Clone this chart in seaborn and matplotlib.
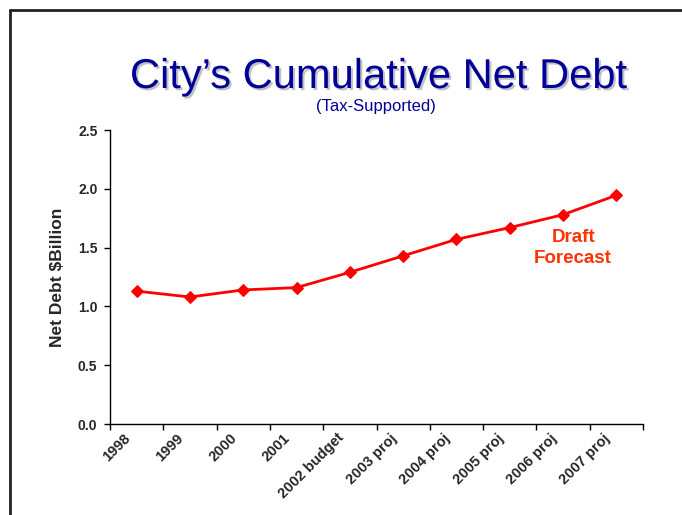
import numpy as np
import pandas as pd
import matplotlib
matplotlib.use("Agg")
import matplotlib.pyplot as plt
import matplotlib.patheffects as pe
from matplotlib.lines import Line2D
from matplotlib.ticker import FixedLocator
import seaborn as sns

# data
years = ["1998", "1999", "2000", "2001", "2002 budget", "2003 proj",
         "2004 proj", "2005 proj", "2006 proj", "2007 proj"]
net_debt = [1.13, 1.08, 1.14, 1.16, 1.29, 1.43, 1.57, 1.67, 1.78, 1.945]
y_ticks = [0.0, 0.5, 1.0, 1.5, 2.0, 2.5]

sns.set_style("white")
plt.rcParams['font.family'] = ['Liberation Sans', 'DejaVu Sans']

df = pd.DataFrame({"pos": np.arange(len(years)), "debt": net_debt})

fig = plt.figure(figsize=(6.82, 5.15), dpi=100)
ax = fig.add_axes([110/682, 1-424/515, (643-110)/682, (424-130)/515])

sns.lineplot(data=df, x="pos", y="debt", ax=ax, color="#ff0000", linewidth=2,
             marker="D", markersize=6, markeredgecolor="#ff0000")

ax.set_xlim(-0.5, len(years) - 0.5)
ax.set_ylim(0, 2.5)
ax.set_yticks(y_ticks)
ax.set_yticklabels([f"{v:.1f}" for v in y_ticks], fontsize=10, fontweight="bold")
# labels sit a little left of the category centre, as in the original
ax.set_xticks(df["pos"] - 0.25)
ax.set_xticklabels(years, rotation=45, ha="right", rotation_mode="anchor",
                   fontsize=10.5, fontweight="bold")
ax.xaxis.set_minor_locator(FixedLocator(np.arange(-0.5, len(years), 1.0)))
ax.tick_params(axis="x", which="major", length=0, pad=5)
ax.tick_params(axis="x", which="minor", length=4, width=1, color="black", direction="out", bottom=True)
ax.tick_params(axis="y", length=4, width=1, color="black", direction="out", left=True, pad=5)

for s in ["top", "right"]:
    ax.spines[s].set_visible(False)
for s in ["left", "bottom"]:
    ax.spines[s].set_color("black")
    ax.spines[s].set_linewidth(1)

ax.set_xlabel("")
ax.set_ylabel("Net Debt $Billion", fontsize=12.5, fontweight="bold", labelpad=9)

ax.text(8.19, 1.50, "Draft\nForecast", color="#ff3300", fontsize=13.5,
        fontweight="bold", ha="center", va="center", linespacing=1.3)

fig.text(378/682, 1-88/515, "City\u2019s Cumulative Net Debt", ha="center", va="baseline",
         fontsize=30, color="#000099",
         path_effects=[pe.withSimplePatchShadow(offset=(1.5, -1.5), shadow_rgbFace="#999999", alpha=0.6)])
fig.text(376/682, 1-107/515, "(Tax-Supported)", ha="center", va="center",
         fontsize=12, color="#000099")

# slide frame
fig.add_artist(Line2D([10/682, 10/682], [0, 1-10/515], transform=fig.transFigure,
                      color="#222222", linewidth=2))
fig.add_artist(Line2D([10/682, 1], [1-10/515, 1-10/515], transform=fig.transFigure,
                      color="#222222", linewidth=2))

fig.savefig("out.png", dpi=100)
